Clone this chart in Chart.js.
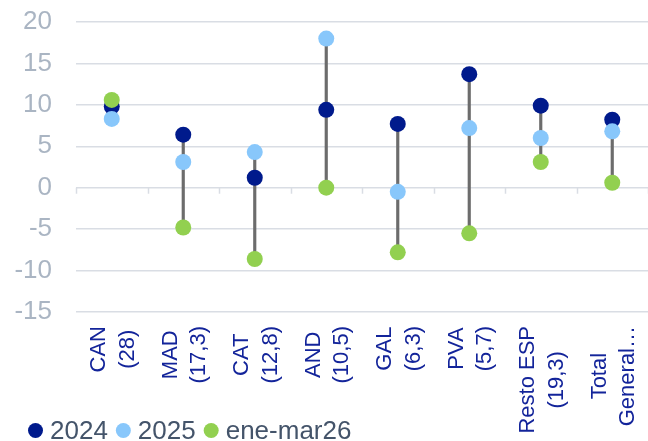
<!DOCTYPE html>
<html>
<head>
<meta charset="utf-8">
<script src="https://cdn.jsdelivr.net/npm/chart.js@4.4.1/dist/chart.umd.min.js"></script>
<style>
  html, body { margin: 0; padding: 0; background: #ffffff; }
  canvas { display: block; }
</style>
</head>
<body>
<canvas id="chart" width="648" height="441"></canvas>
<script>
// Region categories (share in parentheses), one array entry per label line
const categories = [
  ["CAN", "(28)"],
  ["MAD", "(17,3)"],
  ["CAT", "(12,8)"],
  ["AND", "(10,5)"],
  ["GAL", "(6,3)"],
  ["PVA", "(5,7)"],
  ["Resto ESP", "(19,3)"],
  ["Total", "General…"]
];
const seriesNames = ["2024", "2025", "ene-mar26"];
const values2024 = [9.8, 6.4, 1.2, 9.4, 7.7, 13.7, 9.9, 8.2];
const values2025 = [8.3, 3.1, 4.3, 18.0, -0.5, 7.2, 6.0, 6.8];
const valuesEneMar26 = [10.6, -4.8, -8.6, 0.0, -7.8, -5.5, 3.1, 0.6];
const yTicks = [-15, -10, -5, 0, 5, 10, 15, 20];

const FONT = "'Liberation Sans', Arial, sans-serif";
const COLORS = ["#001a8c", "#88c7fb", "#92d050"];
const GRID = "#d9dde4";
const RANGE = "#6c6c6c";

// min–max span per region, drawn as a thin floating bar behind the dots
const ranges = categories.map((_, i) => {
  const v = [values2024[i], values2025[i], valuesEneMar26[i]];
  return [Math.min(...v), Math.max(...v)];
});

const dotSeries = [values2024, values2025, valuesEneMar26].map((data, k) => ({
  type: "line",
  label: seriesNames[k],
  data: data,
  showLine: false,
  pointRadius: 8,
  pointHoverRadius: 8,
  pointBorderWidth: 0,
  pointBackgroundColor: COLORS[k],
  borderColor: COLORS[k],
  backgroundColor: COLORS[k],
  order: 2 - k
}));

const overlay = {
  id: "overlay",
  beforeDatasetsDraw(chart) {
    // short tick marks hanging from the zero line at category boundaries
    const { ctx, scales: { x, y } } = chart;
    const y0 = y.getPixelForValue(0);
    ctx.save();
    ctx.strokeStyle = GRID;
    ctx.lineWidth = 1.5;
    for (let i = 0; i <= categories.length; i++) {
      const px = Math.round(x.getPixelForValue(i - 0.5)) + 0.5;
      ctx.beginPath();
      ctx.moveTo(px, y0);
      ctx.lineTo(px, y0 + 6);
      ctx.stroke();
    }
    ctx.restore();
  },
  afterDraw(chart) {
    const { ctx, scales: { x } } = chart;
    ctx.save();
    // vertical category labels, lines centred on one another
    const fs = 22, lineH = 28.5, topY = 326;
    ctx.font = fs + "px " + FONT;
    ctx.fillStyle = "#13249a";
    ctx.textAlign = "center";
    ctx.textBaseline = "alphabetic";
    categories.forEach((lines, i) => {
      const cx = x.getPixelForValue(i);
      const maxW = Math.max(...lines.map(t => ctx.measureText(t).width));
      const cy = topY + maxW / 2;
      lines.forEach((t, j) => {
        const lx = cx + (j - (lines.length - 1) / 2) * lineH + 0.36 * fs;
        ctx.save();
        ctx.translate(lx, cy);
        ctx.rotate(-Math.PI / 2);
        ctx.fillText(t, 0, 0);
        ctx.restore();
      });
    });
    // legend
    ctx.font = "26px " + FONT;
    ctx.textAlign = "left";
    let lx = 28;
    chart.data.datasets.forEach(ds => {
      if (ds.type !== "line") return;
      ctx.fillStyle = ds.pointBackgroundColor;
      ctx.beginPath();
      ctx.arc(lx + 7.5, 430.5, 7.5, 0, Math.PI * 2);
      ctx.fill();
      ctx.fillStyle = "#44546a";
      ctx.fillText(ds.label, lx + 22, 438.5);
      lx += 22 + ctx.measureText(ds.label).width + 8;
    });
    ctx.restore();
  }
};

new Chart(document.getElementById("chart"), {
  type: "bar",
  data: {
    labels: categories,
    datasets: [
      ...dotSeries,
      {
        type: "bar",
        label: "rango",
        data: ranges,
        backgroundColor: RANGE,
        barThickness: 2.5,
        order: 3
      }
    ]
  },
  options: {
    responsive: false,
    animation: false,
    events: [],
    layout: { autoPadding: false, padding: { left: 14, top: 22, right: 0, bottom: 129 } },
    plugins: {
      legend: { display: false },
      tooltip: { enabled: false }
    },
    scales: {
      x: {
        display: false,
        offset: true
      },
      y: {
        min: yTicks[0],
        max: yTicks[yTicks.length - 1],
        border: { display: false },
        grid: { color: GRID, lineWidth: 1.5, drawTicks: false },
        ticks: {
          stepSize: yTicks[1] - yTicks[0],
          padding: 24,
          color: "#aab5c3",
          font: { family: FONT, size: 26 }
        },
        afterFit(scale) {
          scale.width = 62;
          scale.paddingTop = 0;
          scale.paddingBottom = 0;
        }
      }
    }
  },
  plugins: [overlay]
});
</script>
</body>
</html>
